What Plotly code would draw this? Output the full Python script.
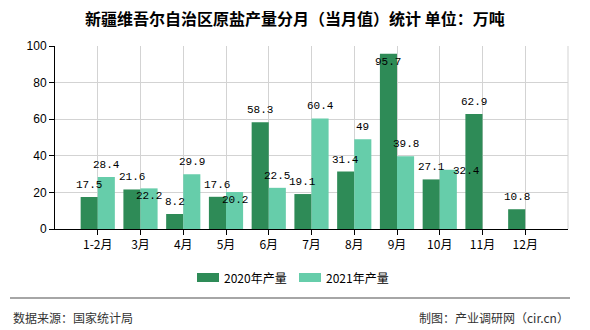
import plotly.graph_objects as go

categories = ["1-2月", "3月", "4月", "5月", "6月", "7月", "8月", "9月", "10月", "11月", "12月"]
series_2020 = [17.5, 21.6, 8.2, 17.6, 58.3, 19.1, 31.4, 95.7, 27.1, 62.9, 10.8]
series_2021 = [28.4, 22.2, 29.9, 20.2, 22.5, 60.4, 49, 39.8, 32.4, None, None]
y_ticks = [0, 20, 40, 60, 80, 100]
series_names = ["2020年产量", "2021年产量"]
series_colors = ["#2e8b57", "#66cdaa"]

# label placement tweaks (pixels) to avoid overlapping labels, as in the reference
label_dy_2020 = [12, 12, 12, 12, 12, 12, 12, -8, 12, 12, 12]
label_dy_2021 = [12, -8, 12, -8, 12, 12, 12, 12, -1, 12, 12]
label_dx_2021 = [0, 0, 0, 0, 0, 0, 0, 0, 18, 0, 0]

CJK = "Noto Sans CJK SC"
LABEL_FONT = dict(family="Liberation Mono, DejaVu Sans Mono", size=11, color="#000")

# plot area in pixels
L, R, T, B = 55, 568, 46, 229
W, H = R - L, B - T
def px(xp): return (xp - L) / W
def py(yp): return (B - yp) / H

def fmt(v):
    return str(int(v)) if float(v).is_integer() else str(v)

fig = go.Figure()
for name, vals, col in zip(series_names, [series_2020, series_2021], series_colors):
    fig.add_trace(go.Bar(
        x=categories, y=vals, name=name,
        marker=dict(color=col, line=dict(width=0)),
        showlegend=False, hoverinfo="x+y+name",
    ))

band = W / 12.0
bar_w = band * 0.4
for i, cat in enumerate(categories):
    for vals, dy, dx, side in [(series_2020, label_dy_2020, [0]*11, -1),
                                (series_2021, label_dy_2021, label_dx_2021, 1)]:
        v = vals[i]
        if v is None:
            continue
        fig.add_annotation(x=cat, y=v, xref="x", yref="y", text=fmt(v),
                           showarrow=False, xanchor="center", yanchor="middle",
                           xshift=side * bar_w / 2 + dx[i], yshift=dy[i],
                           font=LABEL_FONT)

fig.update_layout(
    width=590, height=330,
    margin=dict(l=L, r=590 - R, t=T, b=330 - B),
    paper_bgcolor="white", plot_bgcolor="white",
    barmode="group", bargap=0.2, bargroupgap=0,
    font=dict(family=CJK, size=12, color="#000"),
    showlegend=False,
)

# title
fig.add_annotation(text="新疆维吾尔自治区原盐产量分月（当月值）统计 单位：万吨",
                   xref="paper", yref="paper", x=px(295), xanchor="center",
                   y=py(18), yanchor="middle", showarrow=False,
                   font=dict(family=CJK, size=16, color="#000", weight="bold"))

fig.update_xaxes(
    type="category", range=[-1, 11],
    showline=True, linecolor="#000", linewidth=1,
    showgrid=True, gridcolor="#d3d3d3", gridwidth=1,
    ticks="outside", ticklen=5, tickcolor="#000",
    tickfont=dict(family=CJK, size=12, color="#000"),
    fixedrange=True,
)
fig.update_yaxes(
    range=[0, 100], tickvals=y_ticks,
    showline=True, linecolor="#000", linewidth=1,
    showgrid=True, gridcolor="#d3d3d3", gridwidth=1,
    ticks="outside", ticklen=5, tickcolor="#000",
    tickfont=dict(family="Liberation Sans, Arial", size=12, color="#000"),
    zeroline=False,
)

# right border grid line
fig.add_shape(type="line", xref="paper", yref="paper", x0=1, x1=1, y0=0, y1=1,
              line=dict(color="#d3d3d3", width=1))

# manual legend
legend_x = [197, 299]
for lx, name, col in zip(legend_x, series_names, series_colors):
    fig.add_shape(type="rect", xref="paper", yref="paper",
                  x0=px(lx), x1=px(lx + 22), y0=py(282), y1=py(273),
                  fillcolor=col, line=dict(width=0))
    fig.add_annotation(text=name, xref="paper", yref="paper",
                       x=px(lx + 25), xanchor="left", y=py(277.5), yanchor="middle",
                       showarrow=False, font=dict(family=CJK, size=12, color="#000"))

# footer separator
fig.add_shape(type="line", xref="paper", yref="paper",
              x0=px(10), x1=px(570), y0=py(298), y1=py(298),
              line=dict(color="#888", width=1.5))
fig.add_annotation(text="数据来源：国家统计局", xref="paper", yref="paper",
                   x=px(11), xanchor="left", y=py(317), yanchor="middle",
                   showarrow=False, font=dict(family=CJK, size=12, color="#333"))
fig.add_annotation(text="制图：产业调研网（cir.cn）", xref="paper", yref="paper",
                   x=px(571), xanchor="right", y=py(317), yanchor="middle",
                   showarrow=False, font=dict(family=CJK, size=12, color="#333"))

fig.write_html("out.html")
